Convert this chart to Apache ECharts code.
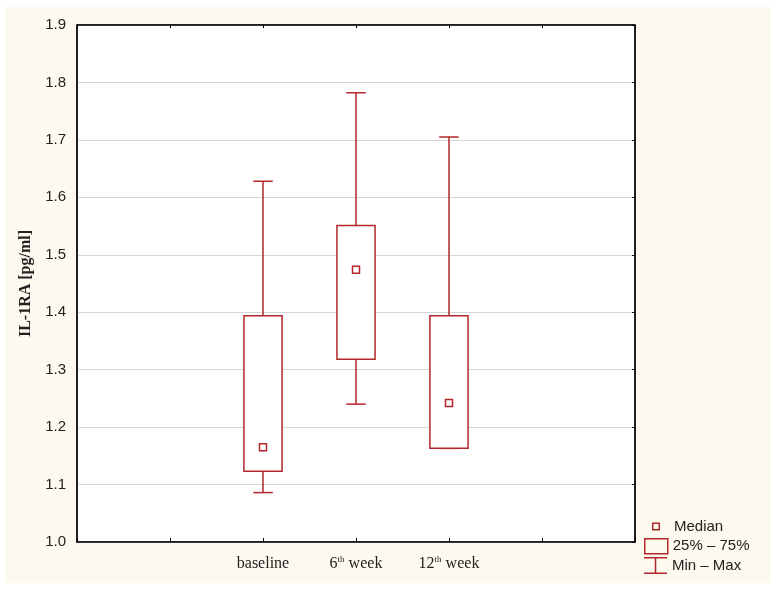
<!DOCTYPE html>
<html>
<head>
<meta charset="utf-8">
<script src="https://cdn.jsdelivr.net/npm/echarts@6/dist/echarts.min.js"></script>
<style>
  html, body {margin: 0; padding: 0; background: #fff;}
  #bg {position: absolute; left: 5px; top: 7px; width: 766px; height: 576px; background: #FEF9EF;}
  #main {position: absolute; left: 0; top: 0; width: 776px; height: 590px;}
</style>
</head>
<body>
<div id="bg"></div>
<div id="main"></div>
<script>
// groups and values
const groups = ['baseline', '6th week', '12th week'];
const minVals = [1.086, 1.240, 1.163];
const q1Vals = [1.123, 1.318, 1.163];
const medianVals = [1.165, 1.474, 1.242];
const q3Vals = [1.394, 1.551, 1.394];
const maxVals = [1.628, 1.782, 1.705];
// empty slots either side of the groups on the x axis
const xSlots = ['', ''].concat(groups, ['', '']);

const RED = '#B3262B';
const SERIF = '"Liberation Serif", "Times New Roman", serif';
const SANS = '"Liberation Sans", Arial, sans-serif';

const boxData = groups.map((g, i) => [g, minVals[i], q1Vals[i], medianVals[i], q3Vals[i], maxVals[i]]);
const medianData = groups.map((g, i) => [g, medianVals[i]]);

function renderBox(params, api) {
  const x = api.value(0);
  const q1 = api.coord([x, api.value(2)]);
  const q3 = api.coord([x, api.value(4)]);
  const w = api.size([1, 0])[0] * 0.41;
  return {
    type: 'rect',
    shape: {x: q1[0] - w / 2, y: q3[1], width: w, height: q1[1] - q3[1]},
    style: {fill: '#fff', stroke: RED, lineWidth: 1.5}
  };
}

function renderWhisker(params, api) {
  const x = api.value(0);
  const lo = api.coord([x, api.value(1)]);
  const q1 = api.coord([x, api.value(2)]);
  const q3 = api.coord([x, api.value(4)]);
  const hi = api.coord([x, api.value(5)]);
  const cw = api.size([1, 0])[0] * 0.21;
  const st = {stroke: RED, lineWidth: 1.5};
  return {
    type: 'group',
    children: [
      {type: 'line', shape: {x1: hi[0], y1: hi[1], x2: q3[0], y2: q3[1]}, style: st},
      {type: 'line', shape: {x1: hi[0] - cw / 2, y1: hi[1], x2: hi[0] + cw / 2, y2: hi[1]}, style: st},
      {type: 'line', shape: {x1: lo[0], y1: lo[1], x2: q1[0], y2: q1[1]}, style: st},
      {type: 'line', shape: {x1: lo[0] - cw / 2, y1: lo[1], x2: lo[0] + cw / 2, y2: lo[1]}, style: st}
    ]
  };
}

function xLabel(v) {      // "6th week" -> superscript th
  const m = /^(\d+)th (.*)$/.exec(v);
  if (!m) return '{n|' + v + '}';
  return '{n|' + m[1] + '}{sup|th}{n| ' + m[2] + '}';
}

const legendText = {fontFamily: SANS, fontSize: 15, color: '#222'};

const option = {
  animation: false,
  backgroundColor: 'transparent',
  grid: {
    left: 77, top: 25, right: 141, bottom: 48,
    show: true, backgroundColor: '#fff', borderColor: '#000', borderWidth: 1
  },
  legend: [
    {
      left: 645, top: 519, padding: 0, itemWidth: 24, itemHeight: 8, selectedMode: false,
      symbolKeepAspect: false,
      textStyle: legendText,
      data: [{
        name: 'Median',
        // hollow square in the middle of a 24x8 box; the two dots only set the box
        icon: 'path://M0,4L0.01,4Z M24,4L23.99,4Z M7,0H15V8H7Z M8.5,1.5V6.5H13.5V1.5Z',
        itemStyle: {color: RED, borderWidth: 0}
      }]
    },
    {
      left: 644, top: 538, padding: 0, itemWidth: 23, itemHeight: 15, selectedMode: false,
      textStyle: legendText,
      data: [{name: '25% – 75%', icon: 'rect', itemStyle: {color: 'rgba(0,0,0,0)', borderColor: RED, borderWidth: 1.5}}]
    },
    {
      left: 644, top: 557, padding: 0, itemWidth: 23, itemHeight: 17, selectedMode: false,
      symbolKeepAspect: false,
      textStyle: legendText,
      data: [{name: 'Min – Max', icon: 'path://M0,0H23V1.5H0Z M10.75,0H12.25V17H10.75Z M0,15.5H23V17H0Z', itemStyle: {color: RED, borderWidth: 0}}]
    }
  ],
  xAxis: [
    {
      type: 'category',
      data: xSlots,
      boundaryGap: false,
      axisLine: {lineStyle: {color: '#000', width: 1.5}},
      axisTick: {inside: true, length: 4, interval: 0, lineStyle: {color: '#000'}},
      axisLabel: {
        interval: 0, margin: 13, formatter: xLabel,
        rich: {
          n: {fontFamily: SERIF, fontSize: 16, color: '#222', lineHeight: 18},
          sup: {fontFamily: SERIF, fontSize: 9, color: '#222', verticalAlign: 'top', lineHeight: 9}
        }
      },
      splitLine: {show: false}
    },
    {
      type: 'category',
      data: xSlots,
      boundaryGap: false,
      position: 'top',
      axisLine: {lineStyle: {color: '#000', width: 1.5}},
      axisTick: {inside: true, length: 3, interval: 0, lineStyle: {color: '#000'}},
      axisLabel: {show: false},
      splitLine: {show: false}
    }
  ],
  yAxis: [
    {
      type: 'value',
      min: 1.0, max: 1.9, interval: 0.1,
      name: 'IL-1RA [pg/ml]',
      nameLocation: 'middle',
      nameGap: 43,
      nameRotate: 90,
      nameTextStyle: {fontFamily: SERIF, fontSize: 16, fontWeight: 'bold', color: '#222'},
      axisLine: {show: true, lineStyle: {color: '#000', width: 1.5}},
      axisTick: {show: false},
      axisLabel: {
        margin: 11, color: '#222', fontFamily: SANS, fontSize: 15,
        formatter: v => v.toFixed(1)
      },
      splitLine: {lineStyle: {color: '#d6d6d6', width: 1.2}}
    },
    {
      type: 'value',
      min: 1.0, max: 1.9, interval: 0.1,
      position: 'right',
      axisLine: {show: true, lineStyle: {color: '#000', width: 1.5}},
      axisTick: {show: true, inside: true, length: 3, lineStyle: {color: '#000'}},
      axisLabel: {show: false},
      splitLine: {show: false}
    }
  ],
  series: [
    {
      name: 'Min – Max',
      type: 'custom',
      renderItem: renderWhisker,
      encode: {x: 0, y: [1, 2, 3, 4, 5]},
      data: boxData,
      z: 2
    },
    {
      name: '25% – 75%',
      type: 'custom',
      renderItem: renderBox,
      encode: {x: 0, y: [1, 2, 3, 4, 5]},
      data: boxData,
      z: 3
    },
    {
      name: 'Median',
      type: 'scatter',
      symbol: 'rect',
      symbolSize: 7,
      itemStyle: {color: '#fff', borderColor: RED, borderWidth: 1.5, opacity: 1},
      data: medianData,
      z: 4
    }
  ]
};

const chart = echarts.init(document.getElementById('main'), null, {renderer: 'canvas'});
chart.setOption(option);
</script>
</body>
</html>
